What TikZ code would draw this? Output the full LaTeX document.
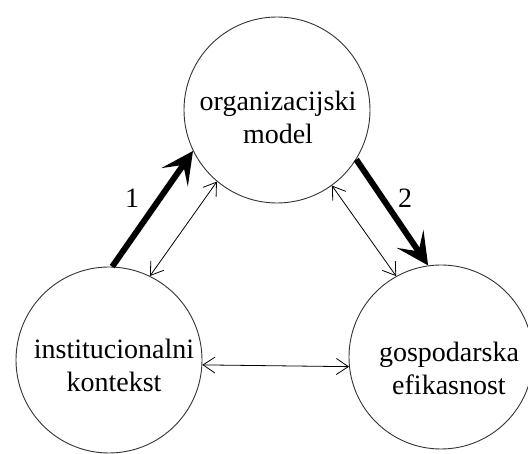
\documentclass[tikz,border=0pt]{standalone}
\usepackage{fontspec}
\setmainfont{Liberation Serif}
\usetikzlibrary{arrows.meta}

\begin{document}
\begin{tikzpicture}
    [
    x=1pt, y=-1pt, font=\fontsize{28}{33}\selectfont,
    >={Straight Barb[length=12pt,width=16pt]},
    %Voreinstellungen fuer Kreise und Pfeile
    kreis/.style={circle, draw=black!80, line width=0.9pt, minimum size=186pt, inner sep=0pt},
    txt/.style={align=center, inner sep=0pt},
    dick/.style={line width=6pt, -{Stealth[length=32pt,width=32pt,inset=15pt]}},
    duenn/.style={line width=0.8pt, <->}
    ]
    
    %Rahmen
    \useasboundingbox (0,0) rectangle (528,454);
    
    %Kreise
    \node[kreis] (org) at (277,110) {};
    \node[kreis] (inst) at (109,360) {};
    \node[kreis, minimum size=184pt] (gosp) at (441,357) {};
    
    %Texte
    \node[txt] (orgtxt) at (278,117) {organizacijski\\model};
    \node[txt] (insttxt) at (114,365) {institucionalni\\kontekst};
    \node[txt] (gosptxt) at (449,368) {gospodarska\\efikasnost};
    
    %dicke Pfeile
    \draw[dick] (inst.88) -- (org.206);
    \draw[dick] (org.-32) -- (gosp.98);
    
    %Nummern
    \node (eins) at (132,198) {1};
    \node (zwei) at (405,198) {2};
    
    %duenne Pfeile
    \draw[duenn] (inst.64) -- (org.230);
    \draw[duenn] (org.-54) -- (gosp.119);
    \draw[duenn] (inst.-3) -- (gosp.186);
\end{tikzpicture}
\end{document}
